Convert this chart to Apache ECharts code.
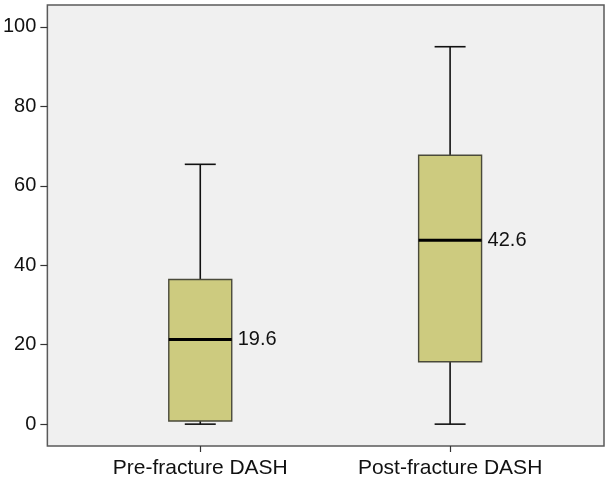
<!DOCTYPE html>
<html>
<head>
<meta charset="utf-8">
<script src="https://cdn.jsdelivr.net/npm/echarts@6/dist/echarts.min.js"></script>
<style>
  html, body { margin: 0; padding: 0; background: #fff; }
  #main { width: 610px; height: 479px; }
</style>
</head>
<body>
<div id="main"></div>
<script>
var categories = ['Pre-fracture DASH', 'Post-fracture DASH'];
// [min, Q1, median, Q3, max]
var preBox = [0, 0.8, 21.3, 36.4, 65.4];
var postBox = [0, 15.7, 46.3, 67.7, 95.0];
var medianLabels = ['19.6', '42.6'];
var yTicks = [0, 20, 40, 60, 80, 100];

var boxes = [preBox, postBox];
var seriesData = [];
for (var i = 0; i < boxes.length; i++) {
    seriesData.push([i].concat(boxes[i]));
}

var halfBox = 0.126;
var halfCap = 0.062;
var font = '20px "Liberation Sans", Arial, sans-serif';

function renderBox(params, api)
{
    var i = api.value(0);
    var pMin = api.coord([i, api.value(1)]);
    var pQ1 = api.coord([i, api.value(2)]);
    var pMed = api.coord([i, api.value(3)]);
    var pQ3 = api.coord([i, api.value(4)]);
    var pMax = api.coord([i, api.value(5)]);
    var xl = api.coord([i - halfBox, 0])[0];
    var xr = api.coord([i + halfBox, 0])[0];
    var cl = api.coord([i - halfCap, 0])[0];
    var cr = api.coord([i + halfCap, 0])[0];
    var lineStyle = { stroke: '#111', lineWidth: 1.6 };

    return {
        type: 'group',
        children: [
            { type: 'line', shape: { x1: pMax[0], y1: pMax[1], x2: pQ3[0], y2: pQ3[1] }, style: lineStyle },
            { type: 'line', shape: { x1: pMin[0], y1: pMin[1], x2: pQ1[0], y2: pQ1[1] }, style: lineStyle },
            { type: 'line', shape: { x1: cl, y1: pMax[1], x2: cr, y2: pMax[1] }, style: lineStyle },
            { type: 'line', shape: { x1: cl, y1: pMin[1], x2: cr, y2: pMin[1] }, style: lineStyle },
            {
                type: 'rect',
                shape: { x: xl, y: pQ3[1], width: xr - xl, height: pQ1[1] - pQ3[1] },
                style: { fill: '#CDCB7F', stroke: '#4a4a3a', lineWidth: 1.4 }
            },
            { type: 'line', shape: { x1: xl, y1: pMed[1], x2: xr, y2: pMed[1] }, style: { stroke: '#000', lineWidth: 3 } },
            {
                type: 'text',
                style: {
                    x: xr + 6, y: pMed[1],
                    text: medianLabels[i],
                    fill: '#111',
                    font: font,
                    verticalAlign: 'middle',
                    align: 'left'
                }
            }
        ]
    };
}

var myChart = echarts.init(document.getElementById('main'));

var option = {
    animation: false,
    grid: {
        left: 47,
        right: 6,
        top: 5,
        bottom: 33,
        show: true,
        backgroundColor: '#F0F0F0',
        borderColor: '#5a5a5a',
        borderWidth: 1.5
    },
    xAxis: {
        type: 'value',
        min: -0.612,
        max: 1.616,
        axisLine: { show: false, onZero: false },
        splitLine: { show: false },
        axisTick: { show: true, length: 6, customValues: [0, 1], lineStyle: { color: '#333', width: 1.2 } },
        axisLabel: {
            customValues: [0, 1],
            margin: 12,
            color: '#111',
            fontSize: 21,
            fontFamily: '"Liberation Sans", Arial, sans-serif',
            formatter: function(v) { return categories[Math.round(v)]; }
        }
    },
    yAxis: {
        type: 'value',
        min: -5.5,
        max: 105.5,
        axisLine: { show: false, onZero: false },
        splitLine: { show: false },
        axisTick: { show: true, length: 7, customValues: yTicks, lineStyle: { color: '#333', width: 1.2 } },
        axisLabel: {
            customValues: yTicks,
            margin: 11,
            color: '#111',
            fontSize: 20,
            fontFamily: '"Liberation Sans", Arial, sans-serif'
        }
    },
    series: [{
        type: 'custom',
        renderItem: renderBox,
        encode: { x: 0, y: [1, 2, 3, 4, 5] },
        data: seriesData
    }]
};

myChart.setOption(option);
</script>
</body>
</html>
